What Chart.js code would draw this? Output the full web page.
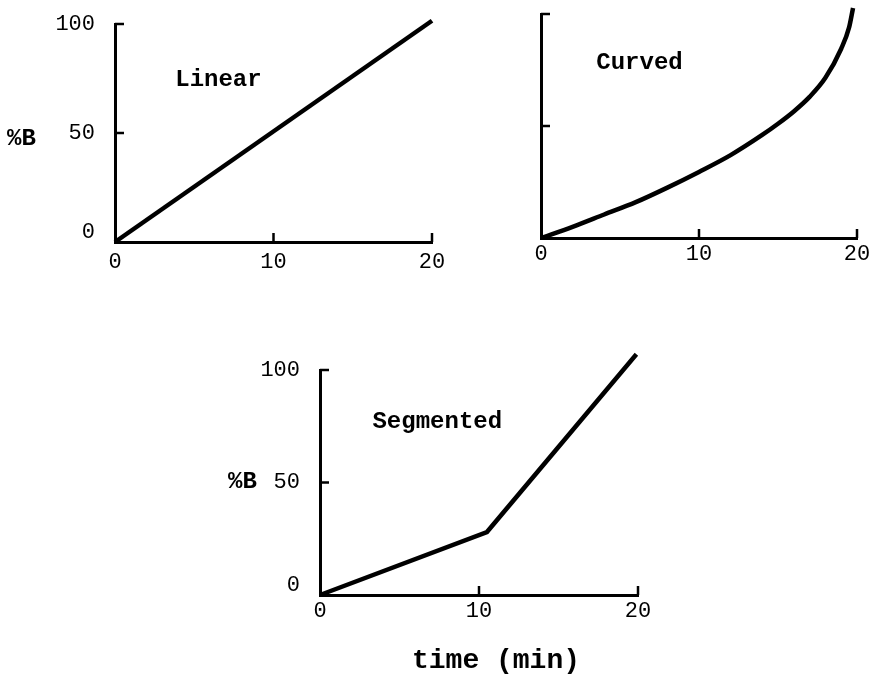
<!DOCTYPE html>
<html>
<head>
<meta charset="utf-8">
<script src="https://cdn.jsdelivr.net/npm/chart.js@4.4.1/dist/chart.umd.min.js"></script>
<style>
  html, body { margin: 0; padding: 0; background: #fff; }
  #wrap { position: relative; width: 874px; height: 680px; overflow: hidden; }
  .box { position: absolute; }
</style>
</head>
<body>
<div id="wrap">
  <div class="box" style="left:0px;top:0px;width:460px;height:290px"><canvas id="c1"></canvas></div>
  <div class="box" style="left:470px;top:0px;width:404px;height:290px"><canvas id="c2"></canvas></div>
  <div class="box" style="left:200px;top:330px;width:474px;height:350px"><canvas id="c3"></canvas></div>
</div>
<script>
  // values (time in min, %B)
  const linearTime = [0, 20];
  const linearB = [0, 101.5];

  const curvedTime = [0, 2, 4, 6, 8, 10, 12, 14, 15, 16, 17, 18, 19, 19.5, 19.75];
  const curvedB = [0, 5, 10.5, 16, 22.5, 29.5, 37, 46, 51, 56.5, 63, 71.5, 84.5, 94, 102.7];

  const segTime = [0, 10.5, 19.9];
  const segB = [0, 28, 107];

  const xTicks = [0, 10, 20];
  const yTicks = [0, 50, 100];

  const mono = "'Liberation Mono', 'DejaVu Sans Mono', monospace";

  function toPoints(xs, ys) {
    return xs.map((x, i) => ({ x: x, y: ys[i] }));
  }

  // inward tick marks, like the hand drawn axes
  const inwardTicks = {
    id: 'inwardTicks',
    afterDraw(chart) {
      const ctx = chart.ctx;
      const xs = chart.scales.x;
      const ys = chart.scales.y;
      const area = chart.chartArea;
      ctx.save();
      ctx.strokeStyle = '#000';
      ctx.lineWidth = 2.5;
      xs.ticks.forEach(t => {
        if (t.value === 0) return;
        const px = xs.getPixelForValue(t.value);
        ctx.beginPath();
        ctx.moveTo(px, area.bottom);
        ctx.lineTo(px, area.bottom - 9);
        ctx.stroke();
      });
      ys.ticks.forEach(t => {
        if (t.value === 0) return;
        const py = ys.getPixelForValue(t.value);
        ctx.beginPath();
        ctx.moveTo(area.left, py);
        ctx.lineTo(area.left + 9, py);
        ctx.stroke();
      });
      ctx.restore();
    }
  };

  // free text: labels inside the plot in data units, the rest in px from the chart area corner
  const notes = {
    id: 'notes',
    afterDraw(chart, args, opts) {
      const ctx = chart.ctx;
      const area = chart.chartArea;
      ctx.save();
      ctx.fillStyle = '#000';
      ctx.textBaseline = 'middle';
      (opts.items || []).forEach(n => {
        ctx.font = n.font;
        ctx.textAlign = n.align || 'left';
        let x, y;
        if (n.data) {
          x = chart.scales.x.getPixelForValue(n.x);
          y = chart.scales.y.getPixelForValue(n.y);
        } else {
          x = area.left + n.x;
          y = area.bottom + n.y;
        }
        ctx.fillText(n.text, x, y);
      });
      ctx.restore();
    }
  };

  function makeChart(id, opts) {
    const ctx = document.getElementById(id).getContext('2d');
    return new Chart(ctx, {
      type: 'line',
      data: {
        datasets: [{
          data: toPoints(opts.xs, opts.ys),
          borderColor: '#000',
          borderWidth: 4.5,
          pointRadius: 0,
          fill: false,
          tension: opts.curve ? 0.4 : 0,
          cubicInterpolationMode: opts.curve ? 'monotone' : 'default',
          clip: false
        }]
      },
      options: {
        responsive: true,
        maintainAspectRatio: false,
        animation: false,
        events: [],
        layout: { padding: opts.padding },
        plugins: {
          legend: { display: false },
          tooltip: { enabled: false },
          notes: { items: opts.notes }
        },
        scales: {
          x: {
            type: 'linear',
            min: 0,
            max: 20,
            afterBuildTicks: s => { s.ticks = xTicks.map(v => ({ value: v })); },
            afterFit: s => {
              s.height = opts.xh;
              s.paddingLeft = 0;
              s.paddingRight = 0;
            },
            grid: { display: false, drawTicks: false },
            border: { display: true, color: '#000', width: 3 },
            ticks: {
              color: '#000',
              padding: opts.xPad,
              font: { family: mono, size: 22 }
            }
          },
          y: {
            type: 'linear',
            min: 0,
            max: 100,
            afterBuildTicks: s => { s.ticks = yTicks.map(v => ({ value: v })); },
            afterFit: s => {
              s.width = opts.yw;
              s.paddingTop = 0;
              s.paddingBottom = 0;
            },
            grid: { display: false, drawTicks: false },
            border: { display: true, color: '#000', width: 3 },
            ticks: {
              display: opts.yLabels,
              color: '#000',
              padding: 20,
              // the 0 label sits a little above the axis in the original
              callback: v => (v === 0 ? ['0', ''] : String(v)),
              font: { family: mono, size: 22, lineHeight: 0.85 }
            }
          }
        }
      },
      plugins: [inwardTicks, notes]
    });
  }

  makeChart('c1', {
    xs: linearTime, ys: linearB, curve: false, yLabels: true,
    padding: { left: 0, right: 28, top: 24, bottom: 0 }, yw: 115, xh: 48, xPad: 7,
    notes: [
      { text: 'Linear', x: 3.8, y: 74.3, data: true, font: 'bold 24px ' + mono },
      { text: '%B', x: -108, y: -103, font: 'bold 24px ' + mono }
    ]
  });

  makeChart('c2', {
    xs: curvedTime, ys: curvedB, curve: true, yLabels: false,
    padding: { left: 0, right: 17, top: 14, bottom: 0 }, yw: 71, xh: 52, xPad: 3,
    notes: [
      { text: 'Curved', x: 3.5, y: 78, data: true, font: 'bold 24px ' + mono }
    ]
  });

  makeChart('c3', {
    xs: segTime, ys: segB, curve: false, yLabels: true,
    padding: { left: 0, right: 36, top: 40, bottom: 0 }, yw: 120, xh: 85, xPad: 3,
    notes: [
      { text: 'Segmented', x: 3.3, y: 77, data: true, font: 'bold 24px ' + mono },
      { text: '%B', x: -92, y: -113, font: 'bold 24px ' + mono },
      { text: 'time (min)', x: 176, y: 66, align: 'center', font: 'bold 28px ' + mono }
    ]
  });
</script>
</body>
</html>
